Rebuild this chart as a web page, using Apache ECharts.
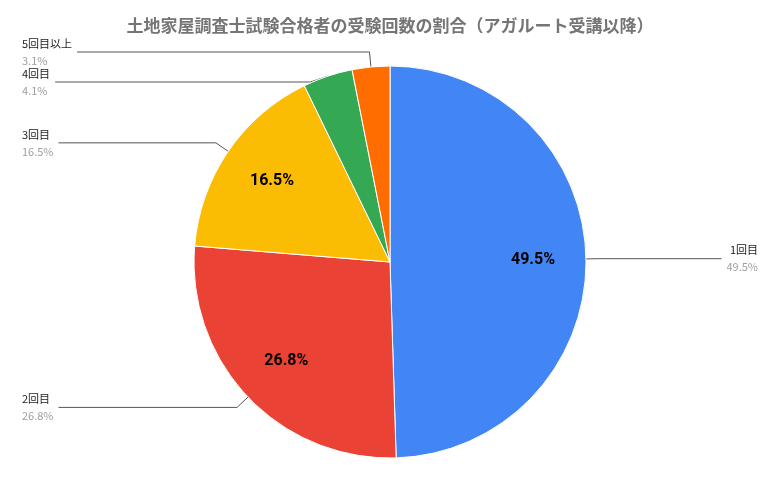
<!DOCTYPE html>
<html><head><meta charset="utf-8">
<script src="https://cdn.jsdelivr.net/npm/echarts@6/dist/echarts.min.js"></script>
<style>html,body{margin:0;padding:0;background:#fff}#c{width:780px;height:482px}</style>
</head><body><div id="c"></div>
<script>
const categories = ['1回目','2回目','3回目','4回目','5回目以上'];
const values = [49.5, 26.8, 16.5, 4.1, 3.1];
const colors = ['#4285F4','#EA4335','#FBBC04','#34A853','#FF6D01'];
const font = '"Noto Sans CJK JP", Roboto, sans-serif';
const chart = echarts.init(document.getElementById('c'));
const data = categories.map((n,i)=>({name:n, value:values[i], itemStyle:{color:colors[i]}}));
chart.setOption({
  title:{text:'土地家屋調査士試験合格者の受験回数の割合（アガルート受講以降）', left:'center', top:12,
    textStyle:{fontFamily:font, fontSize:17, fontWeight:'bold', color:'#757575'}},
  series:[
    {type:'pie', center:[390,262], radius:[0,196], startAngle:90, data:data,
     itemStyle:{borderColor:'#fff', borderWidth:1},
     label:{show:true, position:'outside', alignTo:'edge', edgeDistance:22, fontFamily:font,
       formatter:p=>'{n|'+p.name+'}\n{v|'+p.value.toFixed(1)+'%}',
       rich:{n:{fontSize:11,color:'#222',lineHeight:17},v:{fontSize:11,color:'#9e9e9e',lineHeight:17}}},
     labelLine:{show:true, length:15, length2:10, lineStyle:{color:'#555',width:1}},
     emphasis:{disabled:true}},
    {type:'pie', center:[390,262], radius:[84,196], startAngle:90, silent:true, z:5,
     data:data.map(d=>({name:d.name,value:d.value,itemStyle:{color:'transparent'},
       label:{show:d.value>10}})),
     label:{position:'inside', formatter:p=>p.value.toFixed(1)+'%', fontFamily:'Roboto, sans-serif',
       fontSize:16, fontWeight:'bold', color:'#000'},
     labelLine:{show:false}}
  ]
});
</script></body></html>
